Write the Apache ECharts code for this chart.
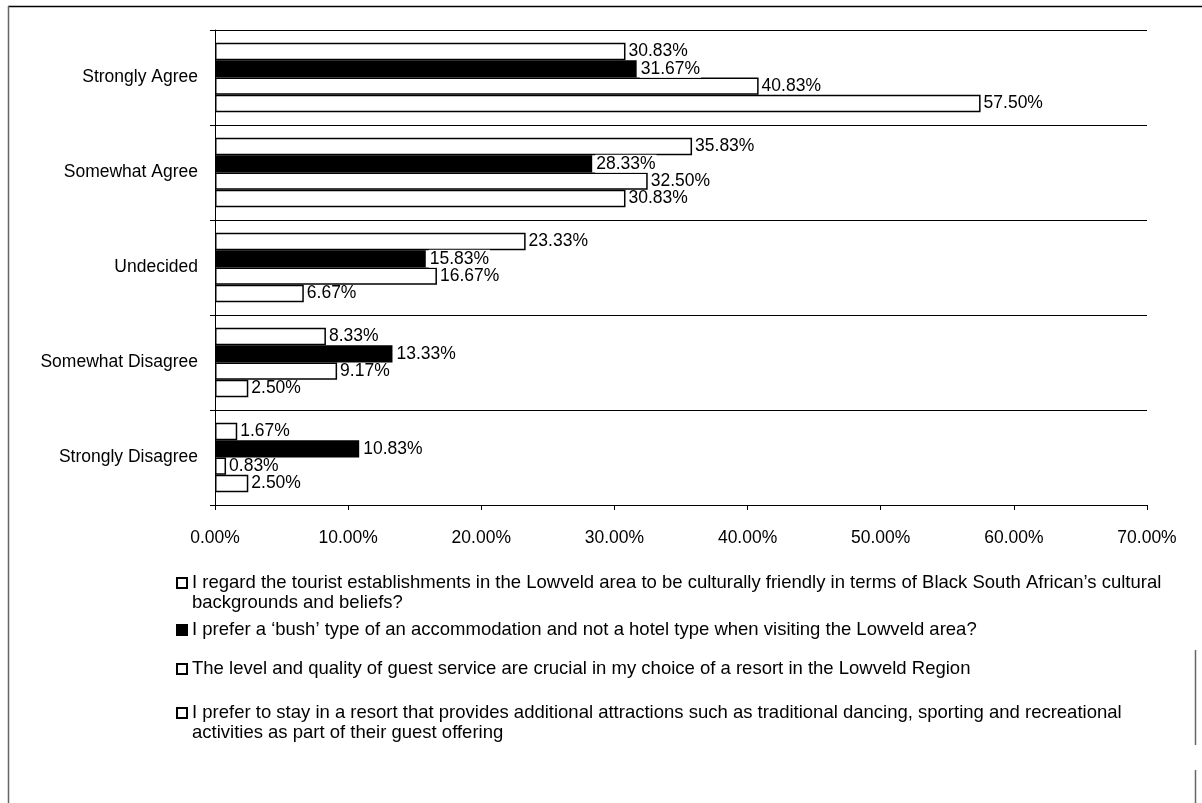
<!DOCTYPE html>
<html>
<head>
<meta charset="utf-8">
<script src="https://cdn.jsdelivr.net/npm/echarts@6/dist/echarts.min.js"></script>
<style>
  html, body { margin: 0; padding: 0; background: #ffffff; }
  #chart { width: 1202px; height: 803px; }
</style>
</head>
<body>
<div id="chart"></div>
<script>
// Response categories, top to bottom
const categories = ['Strongly Agree', 'Somewhat Agree', 'Undecided', 'Somewhat Disagree', 'Strongly Disagree'];

// Statements (series names)
const statementFriendly = 'I regard the tourist establishments in the Lowveld area to be culturally friendly in terms of Black South African\u2019s cultural backgrounds and beliefs?';
const statementBush = 'I prefer a \u2018bush\u2019 type of an accommodation and not a hotel type when visiting the Lowveld area?';
const statementService = 'The level and quality of guest service are crucial in my choice of a resort in the Lowveld Region';
const statementAttractions = 'I prefer to stay in a resort that provides additional attractions such as traditional dancing, sporting and recreational activities as part of their guest offering';

// Percentage of respondents per category
const friendlyValues = [30.83, 35.83, 23.33, 8.33, 1.67];
const bushValues = [31.67, 28.33, 15.83, 13.33, 10.83];
const serviceValues = [40.83, 32.50, 16.67, 9.17, 0.83];
const attractionsValues = [57.50, 30.83, 6.67, 2.50, 2.50];

// Percent axis ticks
const axisMin = 0;
const axisMax = 70;
const axisStep = 10;

const FONT = '"Liberation Sans", Arial, sans-serif';
const FS = 17.5;
const LEGEND_FS = 18.5;
const LEGEND_WRAP = 985;

const pct = v => Number(v).toFixed(2) + '%';

// Word-wrap a legend text so that continuation lines start flush left.
const measureCtx = document.createElement('canvas').getContext('2d');
function wrapText(text, maxWidth) {
  measureCtx.font = LEGEND_FS + 'px ' + FONT;
  const words = text.split(' ');
  const lines = [];
  let line = '';
  for (const w of words) {
    const test = line ? line + ' ' + w : w;
    if (line && measureCtx.measureText(test).width > maxWidth) {
      lines.push(line);
      line = w;
    } else {
      line = test;
    }
  }
  if (line) lines.push(line);
  return lines.join('\n');
}

function barSeries(name, data, fill, labelBg) {
  return {
    type: 'bar',
    name: name,
    data: data,
    barGap: '0%',
    barCategoryGap: '27%',
    itemStyle: { color: fill, borderColor: '#000', borderWidth: 1.5 },
    label: {
      show: true,
      position: 'right',
      distance: 3,
      color: '#000',
      fontFamily: FONT,
      fontSize: FS,
      backgroundColor: labelBg,
      padding: labelBg ? [0, 1] : 0,
      formatter: p => pct(p.value)
    },
    emphasis: { disabled: true },
    animation: false
  };
}

// Square marker kept at the top of a taller box so that it lines up
// with the first line of a wrapped legend text.
const topSquareIcon = 'path://M0,0H10V10H0Z M0,30L0,30';

function legendEntry(name, top, twoLines) {
  return {
    data: [name],
    left: 176,
    top: top,
    orient: 'horizontal',
    padding: 0,
    icon: twoLines ? topSquareIcon : 'rect',
    itemWidth: 10,
    itemHeight: twoLines ? 30 : 10,
    itemGap: 0,
    selectedMode: false,
    formatter: n => wrapText(n, LEGEND_WRAP),
    textStyle: {
      fontFamily: FONT,
      fontSize: LEGEND_FS,
      color: '#000',
      lineHeight: 20
    }
  };
}

const chart = echarts.init(document.getElementById('chart'), null, { renderer: 'canvas' });

chart.setOption({
  backgroundColor: '#ffffff',
  animation: false,
  grid: { left: 215, right: 55, top: 30, bottom: 298, containLabel: false },
  xAxis: {
    type: 'value',
    min: axisMin,
    max: axisMax,
    interval: axisStep,
    axisLine: { show: true, lineStyle: { color: '#000', width: 1 } },
    axisTick: { show: true, length: 5, lineStyle: { color: '#000' } },
    splitLine: { show: false },
    axisLabel: {
      color: '#000',
      fontFamily: FONT,
      fontSize: FS,
      margin: 24,
      formatter: v => pct(v)
    }
  },
  yAxis: {
    type: 'category',
    data: categories,
    inverse: true,
    axisLine: { show: true, lineStyle: { color: '#000', width: 1 } },
    axisTick: { show: true, length: 5, lineStyle: { color: '#000' } },
    splitLine: { show: true, lineStyle: { color: '#000', width: 1 } },
    axisLabel: {
      color: '#000',
      fontFamily: FONT,
      fontSize: FS,
      margin: 17
    }
  },
  legend: [
    legendEntry(statementFriendly, 573, true),
    legendEntry(statementBush, 620, false),
    legendEntry(statementService, 659, false),
    legendEntry(statementAttractions, 703, true)
  ],
  series: [
    barSeries(statementFriendly, friendlyValues, '#ffffff', null),
    barSeries(statementBush, bushValues, '#000000', '#ffffff'),
    barSeries(statementService, serviceValues, '#ffffff', null),
    barSeries(statementAttractions, attractionsValues, '#ffffff', null)
  ],
  graphic: [
    // page frame edges
    { type: 'line', shape: { x1: 8, y1: 6.5, x2: 1202, y2: 6.5 }, style: { stroke: '#000', lineWidth: 1.5 }, silent: true },
    { type: 'line', shape: { x1: 8.5, y1: 6, x2: 8.5, y2: 803 }, style: { stroke: '#666', lineWidth: 1.5 }, silent: true },
    { type: 'line', shape: { x1: 1195.5, y1: 650, x2: 1195.5, y2: 745 }, style: { stroke: '#666', lineWidth: 1.5 }, silent: true },
    { type: 'line', shape: { x1: 1195.5, y1: 770, x2: 1195.5, y2: 803 }, style: { stroke: '#666', lineWidth: 1.5 }, silent: true }
  ]
});
</script>
</body>
</html>
